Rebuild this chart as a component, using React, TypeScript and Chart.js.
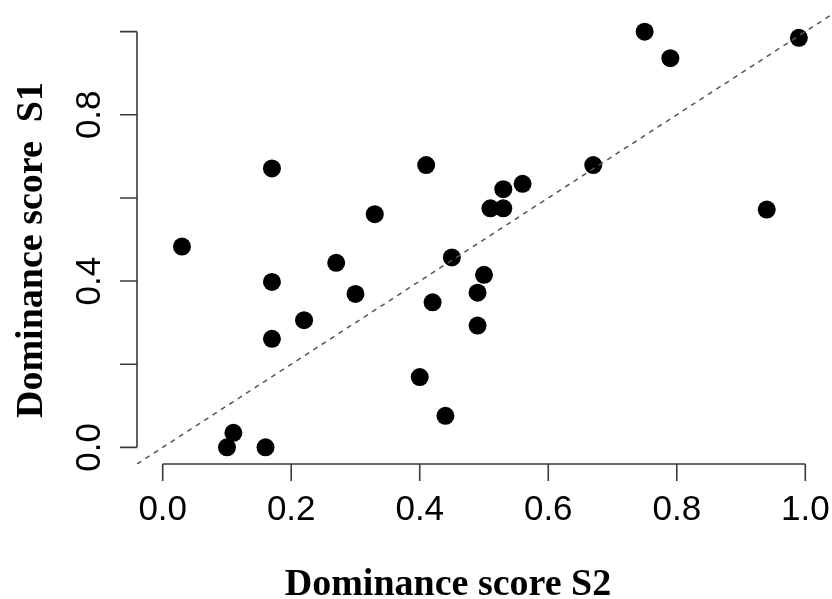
import React, { useEffect, useRef } from "react";
import { Chart, registerables } from "chart.js";
Chart.register(...registerables);

// Data (Dominance score S2 on x, S1 on y)
const scoreS2 = [0.03, 0.10, 0.11, 0.16, 0.17, 0.17, 0.17, 0.22, 0.27, 0.30, 0.33, 0.40, 0.41, 0.42, 0.44, 0.45, 0.49, 0.49, 0.50, 0.51, 0.53, 0.53, 0.56, 0.67, 0.75, 0.79, 0.94, 0.99];
const scoreS1 = [0.483, 0.0, 0.035, 0.0, 0.671, 0.398, 0.261, 0.306, 0.444, 0.369, 0.561, 0.169, 0.679, 0.349, 0.076, 0.457, 0.372, 0.293, 0.415, 0.575, 0.621, 0.575, 0.634, 0.679, 1.0, 0.936, 0.572, 0.985];

const xTicks = [0, 0.2, 0.4, 0.6, 0.8, 1.0];
const xTickLabels = ["0.0", "0.2", "0.4", "0.6", "0.8", "1.0"];
const yTicks = [0, 0.2, 0.4, 0.6, 0.8, 1.0];
const yTickLabels = ["0.0", "", "0.4", "", "0.8", ""];
const axisMin = -0.04;
const axisMax = 1.04;
const refLine = [axisMin, axisMax]; // identity line y = x

const xTitle = "Dominance score S2";
const yTitle = "Dominance score  S1";

const rAxesPlugin = {
  id: "rAxes",
  afterDraw(chart: any) {
    const ctx = chart.ctx;
    const xs = chart.scales.x;
    const ys = chart.scales.y;
    const area = chart.chartArea;
    const axisColor = "#3a3a3a";
    ctx.save();
    ctx.strokeStyle = axisColor;
    ctx.lineWidth = 1.6;
    // x axis
    const yb = area.bottom;
    ctx.beginPath();
    ctx.moveTo(xs.getPixelForValue(xTicks[0]), yb);
    ctx.lineTo(xs.getPixelForValue(xTicks[xTicks.length - 1]), yb);
    xTicks.forEach((t) => {
      const px = xs.getPixelForValue(t);
      ctx.moveTo(px, yb);
      ctx.lineTo(px, yb + 17);
    });
    ctx.stroke();
    // y axis
    const xl = area.left;
    ctx.beginPath();
    ctx.moveTo(xl, ys.getPixelForValue(yTicks[0]));
    ctx.lineTo(xl, ys.getPixelForValue(yTicks[yTicks.length - 1]));
    yTicks.forEach((t) => {
      const py = ys.getPixelForValue(t);
      ctx.moveTo(xl, py);
      ctx.lineTo(xl - 17, py);
    });
    ctx.stroke();

    // tick labels
    ctx.fillStyle = "#000";
    ctx.font = '35px "Liberation Sans", Arial, sans-serif';
    ctx.textAlign = "center";
    ctx.textBaseline = "alphabetic";
    xTicks.forEach((t, i) => {
      ctx.fillText(xTickLabels[i], xs.getPixelForValue(t), 520);
    });
    yTicks.forEach((t, i) => {
      if (!yTickLabels[i]) return;
      ctx.save();
      ctx.translate(100, ys.getPixelForValue(t));
      ctx.rotate(-Math.PI / 2);
      ctx.fillText(yTickLabels[i], 0, 0);
      ctx.restore();
    });

    // axis titles
    ctx.font = 'bold 38px "Liberation Serif", "Times New Roman", serif';
    ctx.fillText(xTitle, 448, 595);
    ctx.save();
    ctx.translate(42, 250);
    ctx.rotate(-Math.PI / 2);
    ctx.fillText(yTitle, 0, 0);
    ctx.restore();
    ctx.restore();
  },
};

export default function App() {
  const ref = useRef<HTMLCanvasElement | null>(null);
  useEffect(() => {
    if (!ref.current) return;
    const chart = new Chart(ref.current, {
      type: "scatter",
      data: {
        datasets: [
          {
            label: "scores",
            data: scoreS2.map((x, i) => ({ x, y: scoreS1[i] })),
            backgroundColor: "#000",
            borderWidth: 0,
            pointRadius: 9,
            pointHoverRadius: 9,
            order: 2,
          },
          {
            type: "line",
            label: "y = x",
            data: refLine.map((v) => ({ x: v, y: v })),
            borderColor: "#555",
            borderWidth: 1.5,
            borderDash: [5, 5],
            pointRadius: 0,
            fill: false,
            order: 1,
          } as any,
        ],
      },
      options: {
        responsive: false,
        animation: false,
        devicePixelRatio: 1,
        layout: { autoPadding: false, padding: { left: 137, right: 1, top: 15, bottom: 135 } },
        plugins: {
          legend: { display: false },
          tooltip: { enabled: false },
          title: { display: false },
        },
        scales: {
          x: { type: "linear", min: axisMin, max: axisMax, display: false },
          y: { type: "linear", min: axisMin, max: axisMax, display: false },
        },
      },
      plugins: [rAxesPlugin],
    });
    return () => chart.destroy();
  }, []);
  return (
    <div style={{ position: "fixed", left: 0, top: 0, width: 832, height: 599, background: "#fff" }}>
      <canvas ref={ref} width={832} height={599} style={{ width: 832, height: 599, display: "block" }} />
    </div>
  );
}
